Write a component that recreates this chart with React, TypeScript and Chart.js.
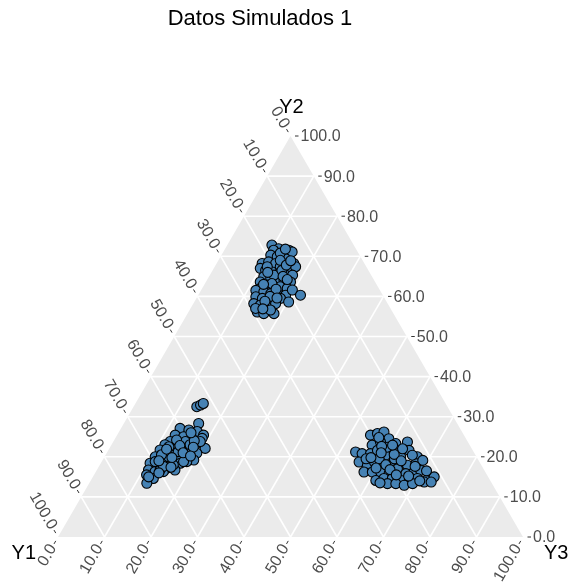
import React, { useEffect, useRef } from "react";
import { Chart, registerables } from "chart.js";

Chart.register(...registerables);

const TITLE = "Datos Simulados 1";
const VERTEX_LABELS = ["Y1", "Y2", "Y3"];
const TICK_VALUES = [0, 10, 20, 30, 40, 50, 60, 70, 80, 90, 100];
const TICK_LABELS = ["0.0", "10.0", "20.0", "30.0", "40.0", "50.0", "60.0", "70.0", "80.0", "90.0", "100.0"];

// Cluster near Y2 vertex
const topY2 = [72.8, 71.9, 71.5, 71.5, 70.3, 71.1, 70.3, 69.9, 69.4, 68.2, 68.2, 68.6, 68.2, 67.4, 67.0, 67.4, 67.0, 66.5, 66.1, 65.7, 65.3, 65.3, 64.9, 64.5, 64.0, 64.0, 63.6, 63.6, 62.8, 62.4, 62.4, 62.0, 62.0, 61.5, 61.1, 60.7, 60.3, 60.3, 61.6, 59.9, 59.5, 59.0, 59.5, 58.6, 58.2, 57.8, 57.4, 58.2, 60.3, 56.1, 55.7, 55.7, 57.0, 56.6, 65.3, 66.5, 67.4, 70.8, 69.0, 67.8, 66.0, 65.0, 63.2, 61.8, 60.0, 58.8, 64.2, 68.9, 63.0, 59.6, 56.9, 71.8];
const topY3 = [9.6, 11.5, 10.6, 13.9, 13.1, 14.8, 10.6, 12.2, 14.2, 16.6, 9.8, 11.0, 12.7, 14.1, 16.1, 17.4, 10.0, 11.4, 13.0, 14.7, 16.3, 17.8, 11.8, 13.5, 15.1, 16.6, 18.2, 11.7, 13.6, 15.2, 16.6, 18.3, 12.5, 11.8, 13.7, 15.4, 17.4, 18.8, 19.6, 12.6, 14.2, 16.2, 18.1, 20.3, 13.0, 14.6, 16.3, 17.7, 22.0, 14.8, 16.4, 18.6, 14.0, 17.4, 13.8, 14.9, 11.3, 12.4, 13.3, 15.2, 12.1, 15.9, 14.4, 16.0, 15.6, 15.1, 17.2, 15.6, 12.7, 17.3, 15.6, 13.0];

// Cluster near Y1 vertex
const leftY2 = [32.5, 32.9, 33.3, 28.3, 27.1, 26.7, 26.3, 25.4, 25.4, 25.0, 24.6, 24.6, 23.8, 23.4, 23.8, 23.0, 22.1, 23.0, 22.1, 21.7, 21.3, 20.9, 21.7, 20.9, 20.0, 19.6, 19.2, 20.0, 19.2, 18.8, 18.4, 18.8, 18.4, 18.0, 17.1, 16.7, 18.8, 16.7, 16.3, 16.3, 15.5, 14.6, 13.4, 20.0, 21.3, 20.5, 18.0, 16.7, 23.0, 23.8, 18.8, 22.5, 24.2, 22.8, 21.0, 19.8, 17.6, 24.0, 22.4, 20.2, 19.0, 16.0, 26.0, 15.0, 17.4, 21.9];
const leftY3 = [13.6, 14.2, 14.6, 16.1, 12.7, 14.8, 16.8, 18.6, 12.5, 14.5, 16.5, 18.7, 12.2, 14.2, 15.5, 18.0, 20.6, 11.5, 13.7, 15.7, 17.4, 19.4, 11.1, 13.4, 15.6, 17.6, 19.6, 10.9, 13.1, 15.1, 17.1, 18.3, 10.6, 12.6, 14.8, 16.8, 17.6, 11.1, 12.7, 14.5, 11.3, 13.2, 12.4, 13.8, 15.2, 12.0, 15.8, 13.6, 16.9, 18.7, 11.5, 12.6, 13.4, 14.8, 16.4, 14.6, 13.9, 17.3, 17.9, 18.4, 12.2, 13.7, 15.6, 12.0, 15.6, 12.4];

// Cluster near Y3 vertex
const rightY2 = [25.4, 25.8, 26.2, 24.5, 22.9, 23.7, 23.3, 23.7, 21.2, 20.8, 20.8, 21.6, 20.4, 21.2, 20.0, 21.6, 20.0, 18.7, 17.9, 18.7, 18.3, 17.9, 18.3, 17.9, 18.3, 19.1, 16.2, 16.2, 16.2, 15.8, 17.0, 15.8, 16.2, 16.6, 14.1, 14.6, 14.6, 14.1, 14.1, 14.6, 14.1, 15.0, 13.3, 13.3, 12.9, 13.3, 13.7, 13.7, 19.5, 19.5, 22.4, 22.0, 20.4, 19.5, 24.8, 22.6, 21.0, 20.6, 19.0, 18.0, 17.2, 16.8, 15.5, 15.2, 17.6, 14.0, 13.5, 22.9, 19.8, 16.5];
const rightY3 = [54.5, 55.8, 57.0, 58.9, 56.1, 57.5, 61.0, 63.3, 53.4, 55.0, 56.8, 57.9, 60.3, 61.7, 63.7, 64.7, 67.3, 55.4, 57.6, 58.7, 60.6, 62.6, 64.2, 66.2, 67.8, 68.9, 57.7, 59.5, 61.3, 63.3, 64.5, 66.9, 68.5, 69.7, 61.3, 62.8, 64.6, 66.7, 68.5, 70.0, 72.1, 73.4, 64.2, 66.0, 68.0, 69.6, 71.9, 73.4, 59.3, 56.5, 59.6, 63.1, 66.0, 62.6, 56.6, 58.3, 59.0, 62.0, 64.3, 61.5, 59.8, 63.0, 65.0, 67.8, 68.0, 70.8, 62.5, 60.5, 57.4, 71.0];

const FONT = "'Liberation Sans', Arial, Helvetica, sans-serif";

// ternary (Y2, Y3) -> cartesian within the triangle (x: Y3 + Y2/2, y: Y2)
const toXY = (y2: number[], y3: number[]) =>
  y2.map((v, i) => ({ x: y3[i] + v / 2, y: v }));

const ternaryPlugin = {
  id: "ternary",
  beforeDatasetsDraw(chart: any) {
    const { ctx } = chart;
    const xs = chart.scales.x;
    const ys = chart.scales.y;
    const P = (y1: number, y2: number, y3: number) => [
      xs.getPixelForValue(y3 + y2 / 2),
      ys.getPixelForValue(y2),
    ];
    ctx.save();
    const A = P(100, 0, 0);
    const B = P(0, 100, 0);
    const C = P(0, 0, 100);
    ctx.beginPath();
    ctx.moveTo(A[0], A[1]);
    ctx.lineTo(B[0], B[1]);
    ctx.lineTo(C[0], C[1]);
    ctx.closePath();
    ctx.fillStyle = "#EBEBEB";
    ctx.fill();

    ctx.strokeStyle = "#FFFFFF";
    ctx.lineWidth = 1.6;
    const seg = (p: number[], q: number[]) => {
      ctx.beginPath();
      ctx.moveTo(p[0], p[1]);
      ctx.lineTo(q[0], q[1]);
      ctx.stroke();
    };
    TICK_VALUES.forEach((v) => {
      if (v === 0 || v === 100) return;
      seg(P(v, 100 - v, 0), P(v, 0, 100 - v));
      seg(P(100 - v, v, 0), P(0, v, 100 - v));
      seg(P(100 - v, 0, v), P(0, 100 - v, v));
    });

    ctx.strokeStyle = "#333333";
    ctx.lineWidth = 1;
    ctx.fillStyle = "#4D4D4D";
    ctx.font = `16px ${FONT}`;
    const t0 = 4.5;
    const t1 = 8;
    const lab = 10;
    const s3 = Math.sqrt(3) / 2;
    TICK_VALUES.forEach((v, i) => {
      const text = TICK_LABELS[i];
      let p = P(0, v, 100 - v);
      let d = [1, 0];
      seg([p[0] + d[0] * t0, p[1] + d[1] * t0], [p[0] + d[0] * t1, p[1] + d[1] * t1]);
      ctx.textAlign = "left";
      ctx.textBaseline = "middle";
      ctx.fillText(text, p[0] + lab, p[1] + 1);
      p = P(v, 100 - v, 0);
      d = [-0.5, -s3];
      seg([p[0] + d[0] * t0, p[1] + d[1] * t0], [p[0] + d[0] * t1, p[1] + d[1] * t1]);
      ctx.save();
      ctx.translate(p[0] + d[0] * lab, p[1] + d[1] * lab);
      ctx.rotate(Math.PI / 3);
      ctx.textAlign = "right";
      ctx.textBaseline = "middle";
      ctx.fillText(text, 0, 0);
      ctx.restore();
      p = P(100 - v, 0, v);
      d = [-0.5, s3];
      seg([p[0] + d[0] * t0, p[1] + d[1] * t0], [p[0] + d[0] * t1, p[1] + d[1] * t1]);
      ctx.save();
      ctx.translate(p[0] + d[0] * lab, p[1] + d[1] * lab);
      ctx.rotate(-Math.PI / 3);
      ctx.textAlign = "right";
      ctx.textBaseline = "middle";
      ctx.fillText(text, 0, 0);
      ctx.restore();
    });

    ctx.fillStyle = "#000000";
    ctx.font = `20px ${FONT}`;
    ctx.textBaseline = "alphabetic";
    ctx.textAlign = "center";
    ctx.fillText(VERTEX_LABELS[1], B[0] + 1, B[1] - 23);
    ctx.textAlign = "right";
    ctx.fillText(VERTEX_LABELS[0], A[0] - 22, A[1] + 22);
    ctx.textAlign = "left";
    ctx.fillText(VERTEX_LABELS[2], C[0] + 21, C[1] + 22);

    ctx.font = `22px ${FONT}`;
    ctx.textAlign = "center";
    ctx.fillText(TITLE, 260, 25);
    ctx.restore();
  },
};

export default function App() {
  const ref = useRef<HTMLCanvasElement | null>(null);
  useEffect(() => {
    if (!ref.current) return;
    const points = [
      ...toXY(topY2, topY3),
      ...toXY(leftY2, leftY3),
      ...toXY(rightY2, rightY3),
    ];
    const chart = new Chart(ref.current, {
      type: "scatter",
      data: {
        datasets: [
          {
            data: points,
            pointRadius: 5,
            pointHoverRadius: 5,
            backgroundColor: "#4682B4",
            borderColor: "#000000",
            borderWidth: 1.1,
          },
        ],
      },
      options: {
        responsive: false,
        maintainAspectRatio: false,
        animation: false,
        layout: { padding: { left: 58, right: 45, top: 136, bottom: 46 } },
        scales: {
          x: { type: "linear", min: 0, max: 100, display: false },
          y: { type: "linear", min: 0, max: 100, display: false },
        },
        plugins: {
          legend: { display: false },
          tooltip: { enabled: false },
          title: { display: false },
        },
      },
      plugins: [ternaryPlugin],
    });
    return () => chart.destroy();
  }, []);
  return (
    <div style={{ position: "fixed", left: 0, top: 0, width: 568, height: 583, background: "#FFFFFF" }}>
      <canvas ref={ref} width={568} height={583} style={{ width: 568, height: 583, display: "block" }} />
    </div>
  );
}
